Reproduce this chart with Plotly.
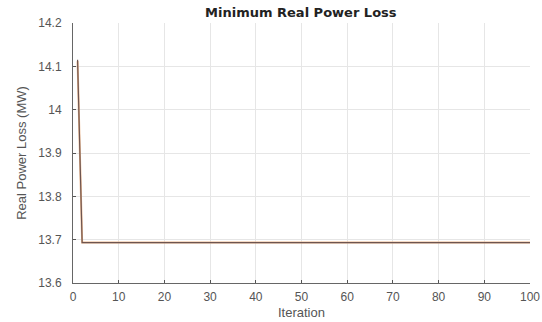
import plotly.graph_objects as go

iterations = list(range(1, 101))
loss_values = [14.115] + [13.693] * 99
loss_values_alt = [14.112] + [13.6933] * 99

x_ticks = [0, 10, 20, 30, 40, 50, 60, 70, 80, 90, 100]
y_ticks = [13.6, 13.7, 13.8, 13.9, 14.0, 14.1, 14.2]
y_tick_labels = ["13.6", "13.7", "13.8", "13.9", "14", "14.1", "14.2"]

fig = go.Figure()
fig.add_trace(go.Scatter(x=iterations, y=loss_values_alt, mode="lines",
                         line=dict(color="#EBB58A", width=2.0), showlegend=False))
fig.add_trace(go.Scatter(x=iterations, y=loss_values, mode="lines",
                         line=dict(color="#6E5550", width=1.2), showlegend=False))

font_fam = "Liberation Sans, Arial, sans-serif"
fig.update_layout(
    width=542, height=322,
    margin=dict(l=73, r=12, t=23, b=39, autoexpand=False),
    paper_bgcolor="white", plot_bgcolor="white",
    title=dict(text="<b>Minimum Real Power Loss</b>", x=0.555, xanchor="center",
               y=0.962, yanchor="middle",
               font=dict(family="DejaVu Sans, sans-serif", size=13, color="#222222")),
    font=dict(family=font_fam, color="#444444"),
)
fig.update_xaxes(
    range=[0, 100], tickvals=x_ticks, ticks="inside", ticklen=3,
    tickcolor="#555555", showline=True, linecolor="#666666", linewidth=1,
    showgrid=True, gridcolor="#E6E6E6", gridwidth=1, zeroline=False,
    tickfont=dict(size=12, color="#555555"), automargin=False,
    ticklabeloverflow="allow", ticklabelstandoff=3,
    title=dict(text="Iteration", font=dict(size=13, color="#555555"), standoff=4),
)
fig.update_yaxes(
    range=[13.6, 14.2], tickvals=y_ticks, ticktext=y_tick_labels,
    ticks="inside", ticklen=3, tickcolor="#555555",
    showline=True, linecolor="#666666", linewidth=1,
    showgrid=True, gridcolor="#E6E6E6", gridwidth=1, zeroline=False,
    tickfont=dict(size=12, color="#555555"), automargin=False,
    ticklabeloverflow="allow", ticklabelstandoff=8,
    title=dict(text="Real Power Loss (MW)", font=dict(size=13, color="#555555"), standoff=8),
)

fig.write_html("out.html",
               config={"displayModeBar": False},
               post_script="document.body.style.margin='0';document.body.style.overflow='hidden';")
